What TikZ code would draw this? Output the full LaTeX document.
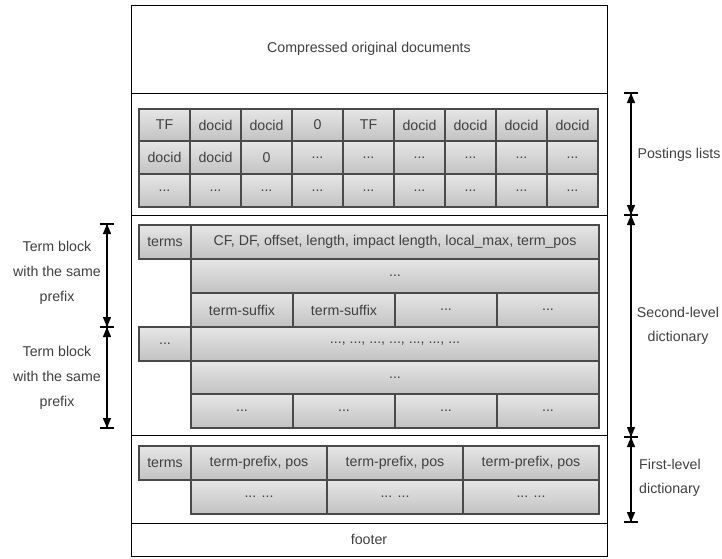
\documentclass[tikz,border=0pt]{standalone}
\usepackage{fontspec}
\setmainfont{Liberation Sans}
\usetikzlibrary{arrows.meta}
\definecolor{cellline}{HTML}{4A4A4A}
\definecolor{txt}{HTML}{404040}
\definecolor{celltop}{HTML}{E6E6E6}
\definecolor{cellbot}{HTML}{C2C2C2}
\newcommand\dts{...}
\newcommand\mycell[6]{\node[cellbox,minimum width={((#4)-(#2))*1pt},minimum height={((#5)-(#3))*1pt}] (#1) at ({((#2)+(#4))/2},{((#3)+(#5))/2}) {#6};}
\newcommand\mysect[6]{\node[sectbox,minimum width={((#4)-(#2))*1pt},minimum height={((#5)-(#3))*1pt}] (#1) at ({((#2)+(#4))/2},{((#3)+(#5))/2}) {#6};}
% downward/upward pointing heads at a named coordinate
\newcommand\headdown[1]{\fill[black] (#1) -- ++(-4.2,-10) -- ++(8.4,0) -- cycle;}
\newcommand\headup[1]{\fill[black] (#1) -- ++(-4.2,10) -- ++(8.4,0) -- cycle;}
\begin{document}
\begin{tikzpicture}[x=1pt,y=-1pt,
  cellbox/.style={draw=cellline, line width=1.1pt, top color=celltop, bottom color=cellbot, inner sep=0pt, text=txt, font=\fontsize{14.2}{16}\selectfont},
  sectbox/.style={draw=black, line width=1pt, fill=white, inner sep=0pt, text=txt, font=\fontsize{14.2}{16}\selectfont},
  lbl/.style={align=center, text=txt, inner sep=0pt},
  dim/.style={line width=1.1pt},
  barline/.style={line width=1.1pt}
]
\useasboundingbox (0,0) rectangle (722,558);
% sections
\mysect{top}{131}{5}{607}{93}{Compressed original documents}
\mysect{post}{131}{93}{607}{215}{}
\mysect{second}{131}{215}{607}{435}{}
\mysect{first}{131}{435}{607}{523}{}
\mysect{footer}{131}{523}{607}{556}{footer}
% postings lists
\foreach \t [count=\i from 0] in {TF,docid,docid,0,TF,docid,docid,docid,docid}{
  \mycell{pa\i}{139+51*\i}{109}{190+51*\i}{141}{\t}}
\foreach \t [count=\i from 0] in {docid,docid,0,\dts,\dts,\dts,\dts,\dts,\dts}{
  \mycell{pb\i}{139+51*\i}{141}{190+51*\i}{174}{\t}}
\foreach \i in {0,1,2,3,4,5,6,7,8}{
  \mycell{pc\i}{139+51*\i}{174}{190+51*\i}{207}{\dts}}
% second-level dictionary
\mycell{sterms}{139}{225}{191}{259}{terms}
\mycell{sinfo}{191}{225}{599}{259}{CF, DF, offset, length, impact length, local\_max, term\_pos}
\mycell{srow2}{191}{259}{599}{293}{\dts}
\mycell{ssa}{191}{293}{293}{327}{term-suffix}
\mycell{ssb}{293}{293}{395}{327}{term-suffix}
\mycell{ssc}{395}{293}{497}{327}{\dts}
\mycell{ssd}{497}{293}{599}{327}{\dts}
\mycell{sterm2}{139}{327}{191}{361}{\dts}
\mycell{sinfo2}{191}{327}{599}{361}{\dts, \dts, \dts, \dts, \dts, \dts, \dts}
\mycell{srow5}{191}{361}{599}{394}{\dts}
\mycell{sta}{191}{394}{293}{428}{\dts}
\mycell{stb}{293}{394}{395}{428}{\dts}
\mycell{stc}{395}{394}{497}{428}{\dts}
\mycell{std}{497}{394}{599}{428}{\dts}
% first-level dictionary
\mycell{fterms}{139}{446}{191}{480}{terms}
\mycell{fpa}{191}{446}{327}{480}{term-prefix, pos}
\mycell{fpb}{327}{446}{463}{480}{term-prefix, pos}
\mycell{fpc}{463}{446}{599}{480}{term-prefix, pos}
\mycell{fqa}{191}{480}{327}{514}{\dts{} \dts}
\mycell{fqb}{327}{480}{463}{514}{\dts{} \dts}
\mycell{fqc}{463}{480}{599}{514}{\dts{} \dts}
% right dimension arrows
\coordinate (r0) at (631,93);
\coordinate (r1) at (631,215);
\coordinate (r2) at (631,437);
\coordinate (r3) at (631,522);
\draw[dim] (r0) -- (r1);
\draw[dim] (r1) -- (r2);
\draw[dim] (r2) -- (r3);
\foreach \c in {r0,r1,r2}{\headup{\c}}
\foreach \c in {r1,r2,r3}{\headdown{\c}}
\foreach \c in {r0,r1,r2,r3}{\draw[barline] ([xshift=-7pt]\c) -- ([xshift=7pt]\c);}
% left dimension arrows
\coordinate (l0) at (107,224);
\coordinate (l1) at (107,327);
\coordinate (l2) at (107,428);
\draw[dim] (l0) -- (l1);
\draw[dim] (l1) -- (l2);
\foreach \c in {l0,l1}{\headup{\c}}
\foreach \c in {l1,l2}{\headdown{\c}}
\foreach \c in {l0,l1,l2}{\draw[barline] ([xshift=-7pt]\c) -- ([xshift=7pt]\c);}
% labels
\node[lbl, font=\fontsize{14.2}{25}\selectfont] (lbA) at (57,273) {Term block\\with the same\\prefix};
\node[lbl, font=\fontsize{14.2}{25}\selectfont] (lbB) at (57,378) {Term block\\with the same\\prefix};
\node[lbl, font=\fontsize{14.2}{24}\selectfont] (rbA) at (679,155) {Postings lists};
\node[lbl, font=\fontsize{14.2}{24}\selectfont] (rbB) at (678,326) {Second-level\\dictionary};
\node[lbl, align=left, anchor=west, font=\fontsize{14.2}{24}\selectfont] (rbC) at (639,478) {First-level\\dictionary};
\end{tikzpicture}
\end{document}
